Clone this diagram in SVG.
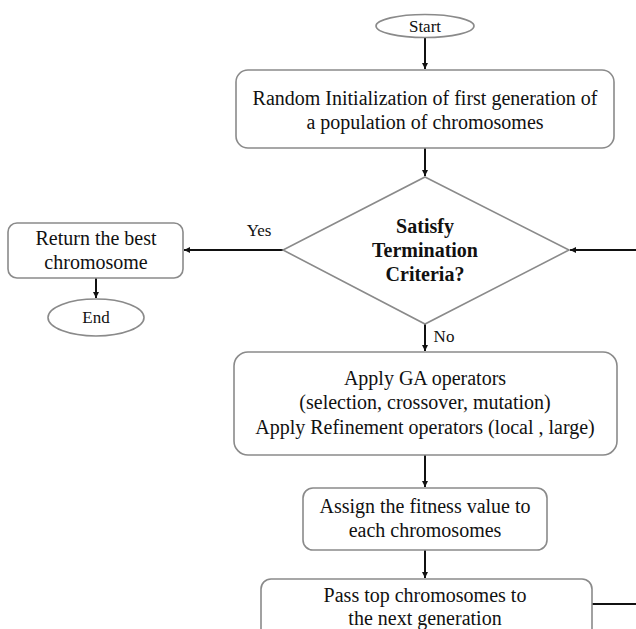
<svg xmlns="http://www.w3.org/2000/svg" width="636" height="629" viewBox="0 0 636 629">
<style>
.box{fill:#fff;stroke:#8a8a8a;stroke-width:1.6}
.t{font-family:"Liberation Serif","Times New Roman",serif;font-size:20px;fill:#111;text-anchor:middle}
.s{font-size:17px}
.b{font-weight:bold}
.c{stroke:#111;stroke-width:2;fill:none}
</style>
<defs>
<marker id="ah" viewBox="0 0 10 10" refX="10" refY="5" markerWidth="6" markerHeight="6" orient="auto" markerUnits="userSpaceOnUse">
<path d="M0,0 L10,5 L0,10 z" fill="#111"/>
</marker>
</defs>
<rect width="636" height="629" fill="#fff"/>
<g id="connectors">
<line class="c" x1="425" y1="37" x2="425" y2="69" marker-end="url(#ah)"/>
<line class="c" x1="425" y1="148" x2="425" y2="176" marker-end="url(#ah)"/>
<line class="c" x1="283" y1="250" x2="184" y2="250" marker-end="url(#ah)"/>
<line class="c" x1="96" y1="278" x2="96" y2="298" marker-end="url(#ah)"/>
<line class="c" x1="425" y1="324" x2="425" y2="351" marker-end="url(#ah)"/>
<line class="c" x1="425" y1="455" x2="425" y2="487" marker-end="url(#ah)"/>
<line class="c" x1="425" y1="550" x2="425" y2="578" marker-end="url(#ah)"/>
<line class="c" x1="592" y1="604" x2="636" y2="604"/>
<line class="c" x1="636" y1="250" x2="570" y2="250" marker-end="url(#ah)"/>
<text class="t s" x="259" y="236">Yes</text>
<text class="t s" x="444" y="342">No</text>
</g>
<g id="start">
<ellipse class="box" cx="425" cy="26" rx="49" ry="11.5"/>
<text class="t s" x="425" y="32">Start</text>
</g>
<g id="init">
<rect class="box" x="236" y="70" width="378" height="78" rx="12"/>
<text class="t" x="425" y="105">Random Initialization of first generation of</text>
<text class="t" x="425" y="129">a population of chromosomes</text>
</g>
<g id="decision">
<polygon class="box" points="425,177 569,250 425,324 283,250"/>
<text class="t b" x="425" y="233">Satisfy</text>
<text class="t b" x="425" y="257">Termination</text>
<text class="t b" x="425" y="281">Criteria?</text>
</g>
<g id="return">
<rect class="box" x="8" y="223" width="175" height="55" rx="9"/>
<text class="t" x="96" y="245">Return the best</text>
<text class="t" x="96" y="269">chromosome</text>
</g>
<g id="end">
<ellipse class="box" cx="96" cy="317.5" rx="48" ry="18.5"/>
<text class="t s" x="96" y="323">End</text>
</g>
<g id="operators">
<rect class="box" x="234" y="352" width="383" height="103" rx="14"/>
<text class="t" x="425" y="385">Apply GA operators</text>
<text class="t" x="425" y="409">(selection, crossover, mutation)</text>
<text class="t" x="425" y="434">Apply Refinement operators (local , large)</text>
</g>
<g id="fitness">
<rect class="box" x="303" y="488" width="244" height="62" rx="10"/>
<text class="t" x="425" y="513">Assign the fitness value to</text>
<text class="t" x="425" y="537">each chromosomes</text>
</g>
<g id="pass">
<rect class="box" x="261" y="579" width="331" height="70" rx="10"/>
<text class="t" x="425" y="602">Pass top chromosomes to</text>
<text class="t" x="425" y="625">the next generation</text>
</g>
</svg>
